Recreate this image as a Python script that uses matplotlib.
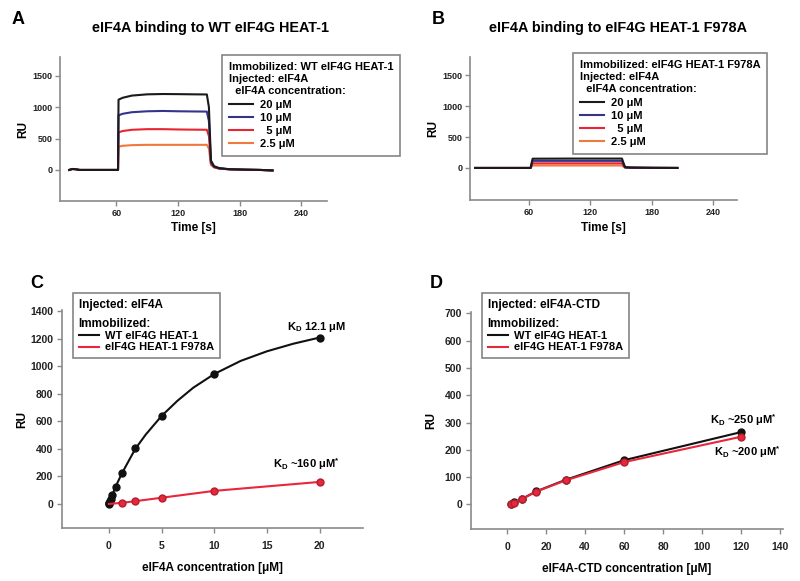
import matplotlib.pyplot as plt
from matplotlib.lines import Line2D

plt.rcParams["font.family"] = ["Liberation Sans", "DejaVu Sans"]
plt.rcParams["font.weight"] = "bold"

# Panel A: sensorgrams, WT eIF4G HEAT-1
time_a = [14, 17, 20, 24, 60, 61.5, 62, 66, 75, 90, 105, 120, 135, 148, 150, 152, 155, 160, 170, 185, 200, 212]
ru_a_20 = [0, 15, 12, 0, 0, 0, 1120, 1150, 1185, 1205, 1210, 1208, 1205, 1203, 1000, 150, 60, 30, 12, 5, 0, -8]
ru_a_10 = [0, 15, 12, 0, 0, 0, 870, 895, 920, 935, 940, 935, 932, 930, 780, 120, 50, 25, 10, 4, 0, -8]
ru_a_5 = [0, 15, 12, 0, 0, 0, 600, 620, 640, 650, 650, 645, 642, 640, 540, 100, 45, 22, 10, 4, 0, -8]
ru_a_25 = [0, 15, 12, 0, 0, 0, 370, 385, 395, 400, 400, 400, 400, 400, 340, 80, 40, 20, 10, 4, 0, -8]

# Panel B: sensorgrams, eIF4G HEAT-1 F978A
time_b = [8, 62, 63, 64, 100, 151, 152.5, 154, 160, 180, 205]
ru_b_20 = [0, 0, 80, 150, 152, 152, 80, 12, 6, 2, 0]
ru_b_10 = [0, 0, 60, 115, 115, 115, 60, 10, 5, 2, 0]
ru_b_5 = [0, 0, 40, 75, 75, 75, 40, 8, 4, 2, 0]
ru_b_25 = [0, 0, 20, 40, 40, 40, 20, 6, 3, 1, 0]

conc_labels = ["20 \u03bcM", "10 \u03bcM", "  5 \u03bcM", "2.5 \u03bcM"]
conc_colors = ["#1a1a1a", "#34348c", "#e82530", "#f2793c"]

# Panel C: steady state, eIF4A
conc_c_wt = [0, 0.02, 0.04, 0.08, 0.16, 0.31, 0.625, 1.25, 2.5, 5, 10, 20]
ru_c_wt = [0, 5, 10, 18, 35, 65, 125, 225, 405, 640, 945, 1205]
fit_c_x = [0, 0.3, 0.6, 1.25, 2, 2.5, 3.5, 5, 6.5, 8, 10, 12.5, 15, 17.5, 20]
fit_c_wt = [0, 60, 120, 225, 330, 400, 505, 640, 750, 845, 945, 1040, 1110, 1165, 1210]
conc_c_mut = [0, 1.25, 2.5, 5, 10, 20]
ru_c_mut = [0, 8, 20, 45, 95, 160]

# Panel D: steady state, eIF4A-CTD
conc_d = [1.9, 3.75, 7.5, 15, 30, 60, 120]
ru_d_wt = [0, 8, 20, 48, 90, 162, 265]
ru_d_mut = [0, 7, 19, 47, 88, 155, 248]

fig = plt.figure(figsize=(8, 5.81), dpi=100)
W, H = 800, 581


def add_axes(left, top, right, bottom):
    return fig.add_axes([left / W, 1 - bottom / H, (right - left) / W, (bottom - top) / H])


def style(ax, size, xpad, ypad):
    for s in ["top", "right"]:
        ax.spines[s].set_visible(False)
    for s in ["left", "bottom"]:
        ax.spines[s].set_color("#8a8a8a")
        ax.spines[s].set_linewidth(1.2)
    ax.tick_params(direction="out", length=3.5, width=1, color="#8a8a8a", labelsize=size)
    ax.tick_params(axis="x", pad=xpad)
    ax.tick_params(axis="y", pad=ypad)
    for lab in ax.get_xticklabels() + ax.get_yticklabels():
        lab.set_fontweight("bold")
        lab.set_color("#222222")


def box_legend(ax, x, y, header, labels, colors, title_size, entry_size, spacing,
               linespacing, hlen, bpad):
    handles = [Line2D([], [], color=c, lw=1.5) for c in colors]
    leg = ax.legend(handles, labels, title=header, loc="upper left",
                    bbox_to_anchor=(x / W, 1 - y / H), bbox_transform=fig.transFigure,
                    borderaxespad=0, fontsize=entry_size, title_fontsize=title_size,
                    frameon=True, fancybox=False, edgecolor="#666666", handlelength=hlen,
                    handletextpad=0.6, labelspacing=spacing, borderpad=bpad, alignment="left")
    leg.get_frame().set_linewidth(1.2)
    leg.get_title().set_fontweight("bold")
    leg.get_title().set_linespacing(linespacing)
    for t in leg.get_texts():
        t.set_fontweight("bold")
    return leg


# Panel A
ax = add_axes(60, 57, 327, 201)
for y, c in zip([ru_a_25, ru_a_5, ru_a_10, ru_a_20], conc_colors[::-1]):
    ax.plot(time_a, y, color=c, lw=1.5)
ax.set_xlim(5, 265)
ax.set_ylim(-495, 1800)
ax.set_xticks([60, 120, 180, 240])
ax.set_yticks([0, 500, 1000, 1500])
ax.set_xlabel("Time [s]", fontsize=8.5, fontweight="bold", labelpad=3)
ax.set_ylabel("RU", fontsize=8.5, fontweight="bold", labelpad=2)
style(ax, 6.5, 2.5, 2)
box_legend(ax, 222, 55, "Immobilized: WT eIF4G HEAT-1\nInjected: eIF4A\n  eIF4A concentration:",
           conc_labels, conc_colors, 8, 8, 0.28, 1.3, 2.2, 0.6)
fig.text(210 / W, 1 - 28 / H, "eIF4A binding to WT eIF4G HEAT-1", ha="center", va="center",
         fontsize=10.4, fontweight="bold")
fig.text(12 / W, 1 - 20 / H, "A", fontsize=13, fontweight="bold", va="center")

# Panel B
ax = add_axes(470, 57, 737, 200)
for y, c in zip([ru_b_25, ru_b_5, ru_b_10, ru_b_20], conc_colors[::-1]):
    ax.plot(time_b, y, color=c, lw=1.5)
ax.set_xlim(3, 263)
ax.set_ylim(-520, 1800)
ax.set_xticks([60, 120, 180, 240])
ax.set_yticks([0, 500, 1000, 1500])
ax.set_xlabel("Time [s]", fontsize=8.5, fontweight="bold", labelpad=3)
ax.set_ylabel("RU", fontsize=8.5, fontweight="bold", labelpad=2)
style(ax, 6.5, 2.5, 2)
box_legend(ax, 573, 53, "Immobilized: eIF4G HEAT-1 F978A\nInjected: eIF4A\n  eIF4A concentration:",
           conc_labels, conc_colors, 8, 8, 0.28, 1.3, 2.2, 0.6)
fig.text(618 / W, 1 - 28 / H, "eIF4A binding to eIF4G HEAT-1 F978A", ha="center", va="center",
         fontsize=10.4, fontweight="bold")
fig.text(432 / W, 1 - 20 / H, "B", fontsize=13, fontweight="bold", va="center")

# Panel C
ax = add_axes(62, 310, 363, 528)
ax.plot(fit_c_x, fit_c_wt, color="#111111", lw=1.5)
ax.plot(conc_c_wt, ru_c_wt, "o", color="#111111", ms=5)
ax.plot(conc_c_mut, ru_c_mut, "-", color="#e8263c", lw=1.5)
ax.plot(conc_c_mut[1:], ru_c_mut[1:], "o", color="#e8263c", ms=5, mec="#b0202e")
ax.set_xlim(-4.45, 24.1)
ax.set_ylim(-175, 1410)
ax.set_xticks([0, 5, 10, 15, 20])
ax.set_yticks(range(0, 1401, 200))
ax.set_xlabel("eIF4A concentration [\u03bcM]", fontsize=8.5, fontweight="bold", labelpad=8)
ax.set_ylabel("RU", fontsize=8.5, fontweight="bold", labelpad=1)
style(ax, 7.5, 6, 3)
box_legend(ax, 73, 293, "Injected: eIF4A\nImmobilized:", ["WT eIF4G HEAT-1", "eIF4G HEAT-1 F978A"],
           ["#111111", "#e8263c"], 8.5, 8, 0.1, 1.85, 1.8, 0.5)
ax.text(19.7, 1290, "K$_\\mathregular{D}$ 12.1 \u03bcM", ha="center", va="center", fontsize=8, fontweight="bold")
ax.text(18.7, 290, "K$_\\mathregular{D}$ ~160 \u03bcM$^\\mathregular{*}$", ha="center", va="center",
        fontsize=8, fontweight="bold")
fig.text(30 / W, 1 - 283 / H, "C", fontsize=13, fontweight="bold", va="center")

# Panel D
ax = add_axes(471, 312, 783, 529)
ax.plot(conc_d, ru_d_wt, "-o", color="#111111", lw=1.5, ms=5)
ax.plot(conc_d, ru_d_mut, "-o", color="#e8263c", lw=1.5, ms=5, mec="#b0202e")
ax.set_xlim(-18.5, 141.5)
ax.set_ylim(-90, 705)
ax.set_xticks(range(0, 141, 20))
ax.set_yticks(range(0, 701, 100))
ax.set_xlabel("eIF4A-CTD concentration [\u03bcM]", fontsize=8.5, fontweight="bold", labelpad=8)
ax.set_ylabel("RU", fontsize=8.5, fontweight="bold", labelpad=5)
style(ax, 7.5, 6, 3)
box_legend(ax, 482, 293, "Injected: eIF4A-CTD\nImmobilized:", ["WT eIF4G HEAT-1", "eIF4G HEAT-1 F978A"],
           ["#111111", "#e8263c"], 8.5, 8, 0.1, 1.85, 1.8, 0.5)
ax.text(121, 310, "K$_\\mathregular{D}$ ~250 \u03bcM$^\\mathregular{*}$", ha="center", va="center",
        fontsize=8, fontweight="bold")
ax.text(123, 193, "K$_\\mathregular{D}$ ~200 \u03bcM$^\\mathregular{*}$", ha="center", va="center",
        fontsize=8, fontweight="bold")
fig.text(430 / W, 1 - 283 / H, "D", fontsize=13, fontweight="bold", va="center")

fig.savefig("out.png", dpi=100)
